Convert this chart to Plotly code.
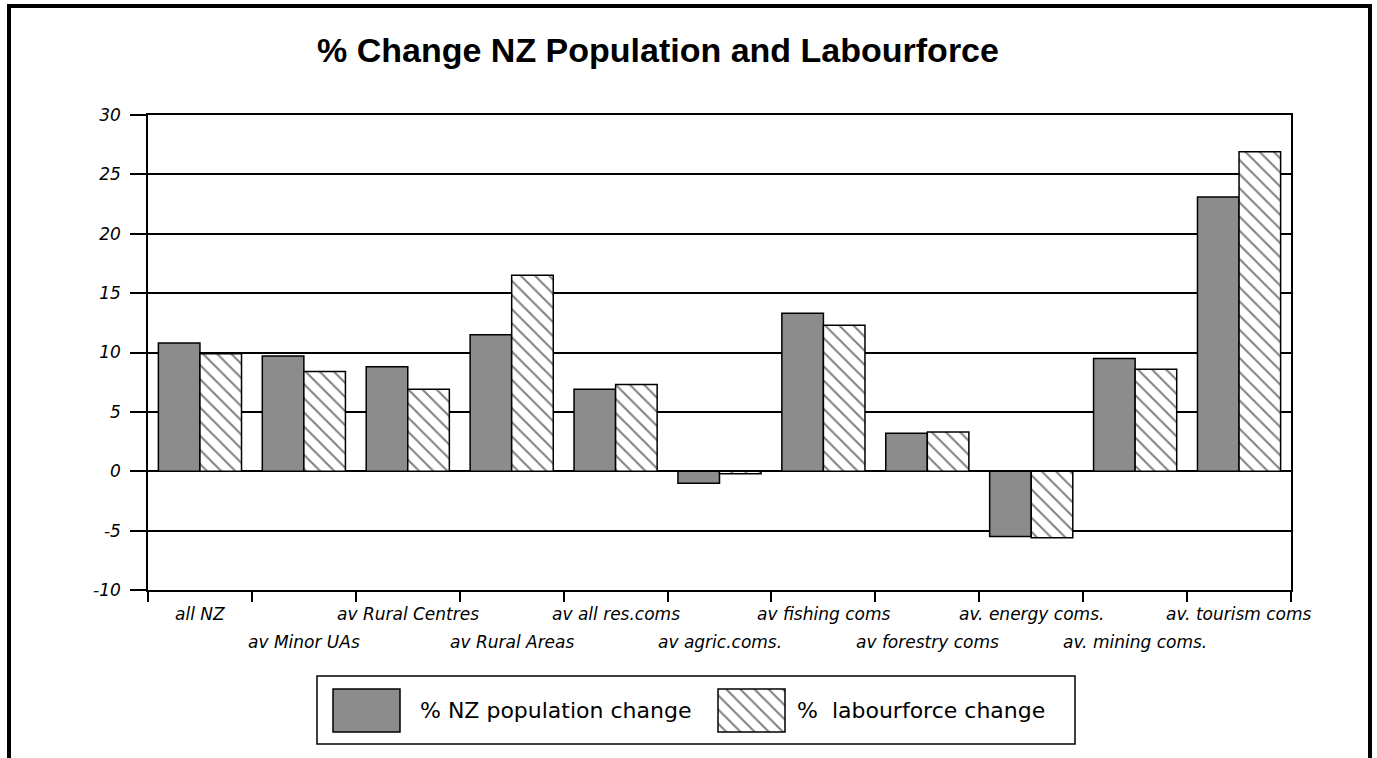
import plotly.graph_objects as go

# ---- data -------------------------------------------------------------
categories = [
    "all NZ", "av Minor UAs", "av Rural Centres", "av Rural Areas",
    "av all res.coms", "av agric.coms.", "av fishing coms",
    "av forestry coms", "av. energy coms.", "av. mining coms.",
    "av. tourism coms",
]
population_change = [10.8, 9.7, 8.8, 11.5, 6.9, -1.0, 13.3, 3.2, -5.5, 9.5, 23.1]
labourforce_change = [9.9, 8.4, 6.9, 16.5, 7.3, -0.2, 12.3, 3.3, -5.6, 8.6, 26.9]
series_names = ["% NZ population change", "%  labourforce change"]
y_ticks = [30, 25, 20, 15, 10, 5, 0, -5, -10]

TITLE = "% Change NZ Population and Labourforce"

# ---- page geometry (pixels) -------------------------------------------
W, H = 1377, 758
PLOT_L, PLOT_R, PLOT_T, PLOT_B = 148, 1291, 115, 590


def px(x):
    return x / W


def py(y):
    return 1 - y / H


GRAY = "#8c8c8c"
hatch = dict(shape="\\", fgcolor="black", bgcolor="white", size=10, solidity=0.2)
tick_font = dict(family="DejaVu Sans", size=17, color="black", style="italic")

fig = go.Figure()

fig.add_trace(go.Bar(
    x=categories, y=population_change, name=series_names[0],
    marker=dict(color=GRAY, line=dict(color="black", width=1.5)),
    showlegend=False,
))
fig.add_trace(go.Bar(
    x=categories, y=labourforce_change, name=series_names[1],
    marker=dict(color="white", pattern=hatch, line=dict(color="black", width=1.5)),
    showlegend=False,
))

# ---- legend keys drawn on their own small axes --------------------------
LEG_L, LEG_R, LEG_T, LEG_B = 317, 1075, 676, 744
legend_key_x = [366.5, 751.5]      # key centres, pixel units along the box
legend_key_base = H - 732
legend_key_height = 43
fig.add_trace(go.Bar(
    x=[legend_key_x[0]], y=[legend_key_height], base=legend_key_base, width=67,
    marker=dict(color=GRAY, line=dict(color="black", width=1.5)),
    xaxis="x2", yaxis="y2", showlegend=False, hoverinfo="skip",
))
fig.add_trace(go.Bar(
    x=[legend_key_x[1]], y=[legend_key_height], base=legend_key_base, width=67,
    marker=dict(color="white", pattern=hatch, line=dict(color="black", width=1.5)),
    xaxis="x2", yaxis="y2", showlegend=False, hoverinfo="skip",
))

annotations = []
# staggered category labels (two rows)
for i, name in enumerate(categories):
    annotations.append(dict(
        x=name, xref="x", y=py(PLOT_B), yref="paper",
        text=name, showarrow=False, xanchor="center", yanchor="top",
        yshift=-12 if i % 2 == 0 else -40, font=tick_font,
    ))
# legend labels
for xpos, label in zip([418, 795], series_names):
    annotations.append(dict(
        x=px(xpos), xref="paper", y=py(710), yref="paper", text=label,
        showarrow=False, xanchor="left", yanchor="middle",
        font=dict(family="DejaVu Sans", size=22, color="black"),
    ))

shapes = [
    # legend box
    dict(type="rect", xref="paper", yref="paper",
         x0=px(LEG_L), x1=px(LEG_R), y0=py(LEG_B), y1=py(LEG_T),
         line=dict(color="black", width=1.5), fillcolor="rgba(0,0,0,0)", layer="below"),
    # value axis runs a little past the category axis
    dict(type="line", xref="paper", yref="paper",
         x0=px(PLOT_L), x1=px(PLOT_L), y0=py(PLOT_B), y1=py(PLOT_B + 9),
         line=dict(color="black", width=1.5)),
    # outer frame (open at the bottom)
    dict(type="path", xref="paper", yref="paper",
         path=f"M {px(9)},{py(H + 10)} L {px(9)},{py(6)} L {px(1370)},{py(6)} L {px(1370)},{py(H + 10)}",
         line=dict(color="black", width=4)),
]

fig.update_layout(
    width=W, height=H,
    margin=dict(l=0, r=0, t=0, b=0),
    paper_bgcolor="white", plot_bgcolor="white",
    barmode="group", bargap=0.2, bargroupgap=0,
    title=dict(
        text=TITLE, x=px(658), xanchor="center", y=py(50), yanchor="middle",
        xref="paper", yref="container",
        font=dict(family="Liberation Sans, Arial", size=34, color="black", weight="bold"),
    ),
    xaxis=dict(
        domain=[px(PLOT_L), px(PLOT_R)],
        type="category", range=[-0.5, len(categories) - 0.5],
        showticklabels=False, tickson="boundaries", ticks="outside",
        ticklen=10, tickwidth=1.5, tickcolor="black",
        showline=True, linecolor="black", linewidth=1.5, mirror=True,
        showgrid=False, zeroline=False, automargin=False, fixedrange=True,
    ),
    yaxis=dict(
        domain=[py(PLOT_B), py(PLOT_T)],
        range=[-10, 30], tickvals=y_ticks, ticktext=[str(v) for v in y_ticks],
        ticks="outside", ticklen=16, tickwidth=1.5, tickcolor="black",
        ticklabelstandoff=6, tickfont=tick_font,
        showline=True, linecolor="black", linewidth=1.5, mirror=True,
        showgrid=True, gridcolor="black", gridwidth=1.5,
        zeroline=True, zerolinecolor="black", zerolinewidth=1.5,
        automargin=False, fixedrange=True,
    ),
    xaxis2=dict(
        domain=[px(LEG_L), px(LEG_R)], range=[LEG_L, LEG_R], anchor="y2",
        visible=False, fixedrange=True,
    ),
    yaxis2=dict(
        domain=[py(LEG_B), py(LEG_T)], range=[H - LEG_B, H - LEG_T], anchor="x2",
        visible=False, fixedrange=True,
    ),
    annotations=annotations,
    shapes=shapes,
)

fig.write_html("out.html")
